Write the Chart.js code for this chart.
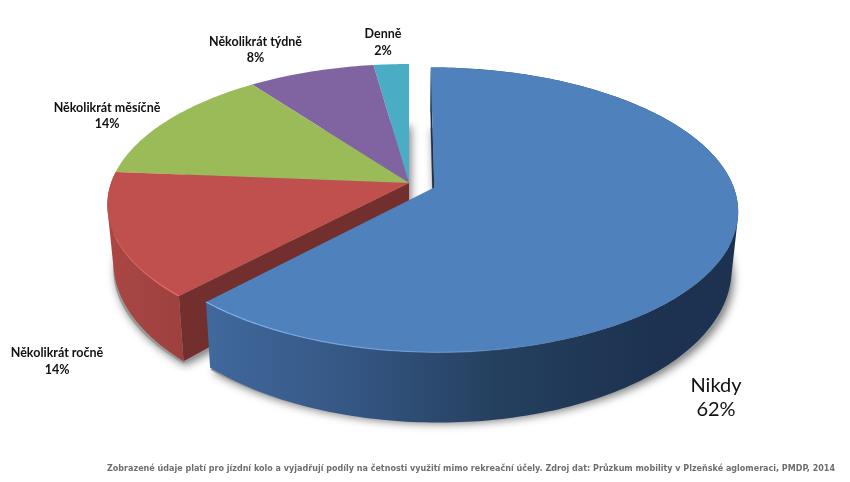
<!DOCTYPE html>
<html lang="cs">
<head>
<meta charset="utf-8">
<title>Četnost využití jízdního kola</title>
<script src="https://cdn.jsdelivr.net/npm/chart.js@4"></script>
<style>
  html, body { margin:0; padding:0; background:#fff; }
  canvas { display:block; }
</style>
</head>
<body>
<canvas id="chart" width="850" height="482"></canvas>
<script>
/* ----------------- Data ----------------- */
const categories = ["Nikdy", "Několikrát ročně", "Několikrát měsíčně", "Několikrát týdně", "Denně"];
const shares = [62, 14.3, 13.6, 7.9, 2.2];
const sliceColors = ["#4f81bd", "#c0504d", "#9bbb59", "#8064a2", "#4bacc6"];
const footnote = "Zobrazené údaje platí pro jízdní kolo a vyjadřují podíly na četnosti využití mimo rekreační účely. Zdroj dat: Průzkum mobility v Plzeňské aglomeraci, PMDP, 2014";

/* ----------------- 3D look ----------------- */
const TILT = 0.4614, PERSP = 0.1555;
const EXPLODE = [27, 0, 0, 0, 0];
const DEG = Math.PI / 180;
// spodni podstava a pomocna podstava pro stin
const TOP = { k: 1, lift: 0, tilt: TILT };
const BOTTOM = { k: 0.98, lift: 55, tilt: 0.503 };
const SHADOW = { k: 0.98, lift: 64, tilt: 0.476 };

function project(el, i, angle, r, plane) {
  const R = el.outerRadius;
  const mid = (el.startAngle + el.endAngle) / 2;
  const U = r * Math.cos(angle) + EXPLODE[i] / R * Math.cos(mid);
  const V = r * Math.sin(angle) + EXPLODE[i] / R * Math.sin(mid);
  const w = 1 - PERSP * V;
  return [el.x + plane.k * R * U / w, el.y + plane.lift + R * plane.tilt * V / w];
}

function rimPoints(el, i, from, to, plane) {
  const pts = [], steps = Math.max(2, Math.ceil(Math.abs(to - from) / DEG));
  for (let s = 0; s <= steps; s++) pts.push(project(el, i, from + (to - from) * s / steps, 1, plane));
  return pts;
}

function addPoly(ctx, pts) {
  pts.forEach((p, n) => n ? ctx.lineTo(p[0], p[1]) : ctx.moveTo(p[0], p[1]));
  ctx.closePath();
}

function trace(ctx, pts) {
  ctx.beginPath();
  addPoly(ctx, pts);
}

function facePoints(el, i, plane) {
  return [project(el, i, el.startAngle, 0, plane)].concat(rimPoints(el, i, el.startAngle, el.endAngle, plane));
}

function signedArea(pts) {
  let a = 0;
  pts.forEach((p, n) => { const q = pts[(n + 1) % pts.length]; a += p[0] * q[1] - q[0] * p[1]; });
  return a;
}

// bocni stena po obvodu: kousky v jedne ceste, at se vyplni i tecna a nejsou svisle pruhy
function wall(ctx, el, i, fill) {
  const upper = rimPoints(el, i, el.startAngle, el.endAngle, TOP);
  const lower = rimPoints(el, i, el.startAngle, el.endAngle, BOTTOM);
  ctx.beginPath();
  for (let n = 0; n < upper.length - 1; n++) {
    const quad = [upper[n], upper[n + 1], lower[n + 1], lower[n]];
    addPoly(ctx, signedArea(quad) < 0 ? quad.reverse() : quad);
  }
  ctx.fillStyle = fill;
  ctx.fill();
}

function cutWall(ctx, el, i, angle, color) {
  trace(ctx, [project(el, i, angle, 0, TOP), project(el, i, angle, 1, TOP), project(el, i, angle, 1, BOTTOM), project(el, i, angle, 0, BOTTOM)]);
  ctx.fillStyle = color;
  ctx.fill();
}

function rimLine(ctx, el, i, from, to, stroke, width) {
  const pts = rimPoints(el, i, from, to, TOP);
  ctx.beginPath();
  pts.forEach((p, n) => n ? ctx.lineTo(p[0], p[1]) : ctx.moveTo(p[0], p[1]));
  ctx.strokeStyle = stroke;
  ctx.lineWidth = width;
  ctx.stroke();
}

function hGradient(ctx, x0, x1, stops) {
  const g = ctx.createLinearGradient(x0, 0, x1, 0);
  stops.forEach(s => g.addColorStop(s[0], s[1]));
  return g;
}

const pie3d = {
  id: "pie3d",
  beforeDatasetDraw() { return false; },
  afterDatasetsDraw(chart) {
    const ctx = chart.ctx, els = chart.getDatasetMeta(0).data;
    ctx.save();

    // mekky stin pod kolacem
    ctx.shadowColor = "rgba(0,0,0,0.5)";
    ctx.shadowBlur = 9;
    ctx.shadowOffsetX = 2;
    ctx.shadowOffsetY = 2;
    ctx.fillStyle = "#999";
    els.forEach((el, i) => { trace(ctx, facePoints(el, i, SHADOW)); ctx.fill(); });
    ctx.shadowColor = "transparent";

    // zbytek kolace
    const red = els[1];
    cutWall(ctx, red, 1, red.startAngle, "#722f2d");
    wall(ctx, red, 1, hGradient(ctx, 107, 185, [[0, "#ab4745"], [1, "#9c403e"]]));
    [4, 3, 2, 1].forEach(i => {
      trace(ctx, facePoints(els[i], i, TOP));
      ctx.fillStyle = els[i].options.backgroundColor;
      ctx.fill();
    });
    const redRim = hGradient(ctx, 107, 178, [[0, "rgba(232,110,105,0.25)"], [1, "rgba(232,110,105,1)"]]);
    rimLine(ctx, red, 1, red.startAngle, red.endAngle - 25 * DEG, redRim, 1.2);

    // modra vysec jde az navrch
    const blue = els[0];
    cutWall(ctx, blue, 0, blue.startAngle, "#1c3350");
    wall(ctx, blue, 0, hGradient(ctx, 205, 650, [[0, "#41699d"], [0.35, "#345581"], [0.65, "#25405f"], [1, "#1c3250"]]));
    trace(ctx, facePoints(blue, 0, TOP));
    ctx.fillStyle = blue.options.backgroundColor;
    ctx.fill();
    const blueRim = hGradient(ctx, 205, 560, [[0, "rgba(130,175,232,1)"], [0.7, "rgba(130,175,232,0.55)"], [1, "rgba(130,175,232,0)"]]);
    rimLine(ctx, blue, 0, blue.endAngle, blue.endAngle - 130 * DEG, blueRim, 1.2);
    ctx.restore();

    drawLabels(ctx);
  }
};

/* ----------------- Popisky ----------------- */
function drawLabels(ctx) {
  const spots = [
    { x: 716, y: 386, lh: 24, font: '20px Lato' },
    { x: 57, y: 353, lh: 17, font: 'bold 12.5px Lato' },
    { x: 107, y: 108, lh: 16, font: 'bold 12.5px Lato' },
    { x: 255.5, y: 42, lh: 16, font: 'bold 12.5px Lato' },
    { x: 383, y: 34, lh: 17, font: 'bold 12.5px Lato' }
  ];
  ctx.save();
  ctx.textAlign = "center";
  ctx.textBaseline = "middle";
  ctx.fillStyle = "#111";
  categories.forEach((name, i) => {
    const s = spots[i];
    ctx.font = s.font;
    ctx.fillText(name, s.x, s.y);
    ctx.fillText(Math.round(shares[i]) + "%", s.x, s.y + s.lh);
  });
  ctx.textAlign = "right";
  ctx.font = 'bold 9px "DejaVu Sans"';
  ctx.fillStyle = "#6e6e6e";
  ctx.fillText(footnote, 835, 469, 728);
  ctx.restore();
}

/* ----------------- Chart ----------------- */
new Chart(document.getElementById("chart"), {
  type: "pie",
  data: {
    labels: categories,
    datasets: [{ data: shares, backgroundColor: sliceColors, borderWidth: 0 }]
  },
  options: {
    responsive: false,
    animation: false,
    radius: 298,
    layout: { padding: { right: 32, bottom: 116 } },
    events: [],
    plugins: { legend: { display: false }, tooltip: { enabled: false } }
  },
  plugins: [pie3d]
});
</script>
</body>
</html>
